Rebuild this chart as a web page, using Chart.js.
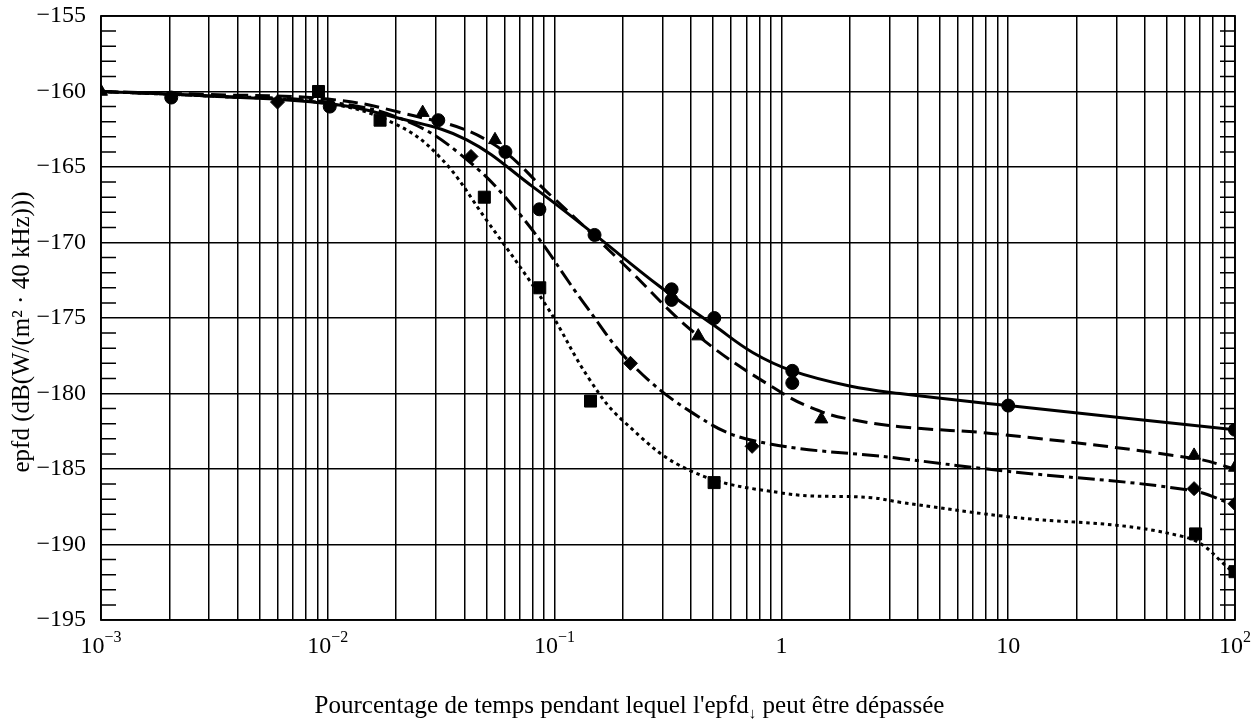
<!DOCTYPE html>
<html>
<head>
<meta charset="utf-8">
<script src="https://cdn.jsdelivr.net/npm/chart.js@4.4.1/dist/chart.umd.min.js"></script>
<style>
  html, body { margin: 0; padding: 0; background: #fff; }
  canvas { display: block; }
</style>
</head>
<body>
<canvas id="epfdChart" width="1259" height="722"></canvas>
<script>
// fitted curves: [percentage of time, epfd]
const curveSolid = [
  [0.001, -160.0], [0.003, -160.3], [0.01, -160.8], [0.021, -161.8], [0.041, -163.2],
  [0.08, -166.3], [0.148, -169.4], [0.29, -172.9], [0.506, -175.5], [0.75, -177.3],
  [1.117, -178.5], [2.0, -179.5], [3.33, -180.0], [10, -180.8], [100, -182.4]
];
const curveDashed = [
  [0.001, -160.0], [0.003, -160.2], [0.01, -160.5], [0.021, -161.4], [0.05, -163.2],
  [0.098, -167.0], [0.194, -171.2], [0.423, -176.1], [1.016, -180.0], [1.5, -181.2],
  [2.0, -181.7], [3.33, -182.2], [9.2, -182.7], [66, -184.3], [100, -185.0]
];
const curveDashDot = [
  [0.001, -160.0], [0.003, -160.3], [0.01, -160.7], [0.021, -161.8], [0.038, -164.1],
  [0.07, -168.1], [0.139, -174.3], [0.217, -178.0], [0.407, -181.3], [0.742, -183.1],
  [3.33, -184.3], [9.2, -185.1], [63, -186.4], [100, -187.4]
];
const curveDotted = [
  [0.001, -160.0], [0.003, -160.3], [0.01, -160.8], [0.0195, -162.1], [0.031, -164.3],
  [0.05, -168.5], [0.092, -174.2], [0.143, -179.1], [0.2, -181.8], [0.395, -185.1],
  [1.016, -186.6], [2.5, -186.9], [3.33, -187.2], [9.2, -188.1], [60, -189.5],
  [100, -191.9]
];

// measured points (markers)
const pointsCircle = [
  [0.00204, -160.4], [0.0102, -161.0], [0.0307, -161.9], [0.0607, -164.0], [0.0857, -167.8],
  [0.15, -169.5], [0.328, -173.1], [0.328, -173.8], [0.506, -175.0], [1.117, -178.5],
  [1.117, -179.3], [10, -180.8], [100, -182.4]
];
const pointsTriangle = [
  [0.001, -160.0], [0.0262, -161.4], [0.0546, -163.2], [0.43, -176.2], [1.5, -181.7],
  [66, -184.1], [100, -184.9]
];
const pointsDiamond = [
  [0.006, -160.7], [0.0428, -164.3], [0.216, -178.0], [0.743, -183.5], [66, -186.3],
  [100, -187.3]
];
const pointsSquare = [
  [0.0091, -160.0], [0.017, -161.9], [0.049, -167.0], [0.086, -173.0], [0.144, -180.5],
  [0.505, -185.9], [67, -189.3], [100, -191.8]
];

// axis labels
const xDecades = [0.001, 0.01, 0.1, 1, 10, 100];
const xDecadeBase = ['10', '10', '10', '1', '10', '10'];
const xDecadeExp = ['\u22123', '\u22122', '\u22121', '', '', '2'];
const yTicks = [-155, -160, -165, -170, -175, -180, -185, -190, -195];
const xTitle = "Pourcentage de temps pendant lequel l'epfd";
const xTitleSub = '\u2193';
const xTitleEnd = ' peut \u00eatre d\u00e9pass\u00e9e';
const yTitle = 'epfd (dB(W/(m\u00b2 \u00b7 40 kHz)))';

const FONT = '"Liberation Serif", "Times New Roman", serif';
const toXY = arr => arr.map(p => ({ x: p[0], y: p[1] }));

function curve(data, dash) {
  return {
    data: toXY(data),
    borderColor: '#000',
    borderWidth: 3,
    borderDash: dash,
    borderCapStyle: 'butt',
    pointRadius: 0,
    tension: 0.4,
    fill: false
  };
}

function marks(data, style, radius) {
  return {
    data: toXY(data),
    showLine: false,
    pointStyle: style,
    pointRadius: radius,
    pointHoverRadius: radius,
    pointBackgroundColor: '#000',
    pointBorderColor: '#000',
    pointBorderWidth: 1
  };
}

const frame = {
  id: 'frame',
  beforeDatasetsDraw(chart) {
    const { ctx, chartArea: a, scales: { y } } = chart;
    ctx.save();
    ctx.strokeStyle = '#000';
    ctx.lineWidth = 1.5;
    ctx.beginPath();
    for (let v = -194; v < -155; v++) {
      if (v % 5 === 0) continue;
      const py = y.getPixelForValue(v);
      ctx.moveTo(a.left, py); ctx.lineTo(a.left + 15, py);
      ctx.moveTo(a.right - 15, py); ctx.lineTo(a.right, py);
    }
    ctx.stroke();
    ctx.lineWidth = 1.8;
    ctx.strokeRect(a.left, a.top, a.right - a.left, a.bottom - a.top);
    ctx.restore();
  },
  afterDraw(chart) {
    const { ctx, chartArea: a, scales: { x, y } } = chart;
    ctx.save();
    ctx.fillStyle = '#000';

    // y tick labels
    ctx.font = '24px ' + FONT;
    ctx.textAlign = 'right';
    ctx.textBaseline = 'middle';
    yTicks.forEach(v => {
      ctx.fillText('\u2212' + Math.abs(v), a.left - 15, y.getPixelForValue(v));
    });

    // x tick labels with superscripts
    ctx.textAlign = 'left';
    ctx.textBaseline = 'alphabetic';
    xDecades.forEach((v, i) => {
      ctx.font = '24px ' + FONT;
      const wb = ctx.measureText(xDecadeBase[i]).width;
      ctx.font = '16px ' + FONT;
      const we = xDecadeExp[i] ? ctx.measureText(xDecadeExp[i]).width : 0;
      const px = x.getPixelForValue(v);
      const left = px - (wb + we) / 2;
      ctx.font = '24px ' + FONT;
      ctx.fillText(xDecadeBase[i], left, a.bottom + 33);
      if (xDecadeExp[i]) {
        ctx.font = '16px ' + FONT;
        ctx.fillText(xDecadeExp[i], left + wb, a.bottom + 22);
      }
    });

    // x title with subscript arrow
    ctx.font = '25px ' + FONT;
    const w1 = ctx.measureText(xTitle).width;
    const w3 = ctx.measureText(xTitleEnd).width;
    ctx.font = '15px ' + FONT;
    const w2 = ctx.measureText(xTitleSub).width;
    let tx = chart.width / 2 - (w1 + w2 + w3) / 2;
    const ty = 713;
    ctx.font = '25px ' + FONT;
    ctx.fillText(xTitle, tx, ty);
    tx += w1;
    ctx.font = '15px ' + FONT;
    ctx.fillText(xTitleSub, tx, ty + 5);
    tx += w2;
    ctx.font = '25px ' + FONT;
    ctx.fillText(xTitleEnd, tx, ty);

    // y title
    ctx.translate(22, (a.top + a.bottom) / 2 + 14);
    ctx.rotate(-Math.PI / 2);
    ctx.textAlign = 'center';
    ctx.textBaseline = 'middle';
    ctx.font = '25px ' + FONT;
    ctx.fillText(yTitle, 0, 0);
    ctx.restore();
  }
};

new Chart(document.getElementById('epfdChart'), {
  type: 'line',
  data: {
    datasets: [
      curve(curveSolid, []),
      curve(curveDashed, [15, 7]),
      curve(curveDashDot, [17, 5, 4, 5]),
      curve(curveDotted, [3.5, 3.8]),
      marks(pointsCircle, 'circle', 6.5),
      marks(pointsTriangle, 'triangle', 7.5),
      marks(pointsDiamond, 'rectRot', 7),
      marks(pointsSquare, 'rect', 8.5)
    ]
  },
  plugins: [frame],
  options: {
    responsive: false,
    animation: false,
    layout: { padding: { left: 101, top: 16, right: 24, bottom: 102 } },
    plugins: { legend: { display: false }, tooltip: { enabled: false } },
    elements: { line: { borderJoinStyle: 'round' } },
    scales: {
      x: {
        type: 'logarithmic',
        min: 0.001,
        max: 100,
        afterBuildTicks(scale) {
          const ticks = [];
          for (let e = -3; e < 2; e++) {
            for (let m = 1; m < 10; m++) ticks.push({ value: m * Math.pow(10, e) });
          }
          ticks.push({ value: 100 });
          scale.ticks = ticks;
        },
        ticks: { display: false },
        grid: { color: '#000', lineWidth: 1.5, drawTicks: false },
        border: { display: false }
      },
      y: {
        type: 'linear',
        min: -195,
        max: -155,
        ticks: { display: false, stepSize: 5 },
        grid: { color: '#000', lineWidth: 1.5, drawTicks: false },
        border: { display: false }
      }
    }
  }
});
</script>
</body>
</html>
